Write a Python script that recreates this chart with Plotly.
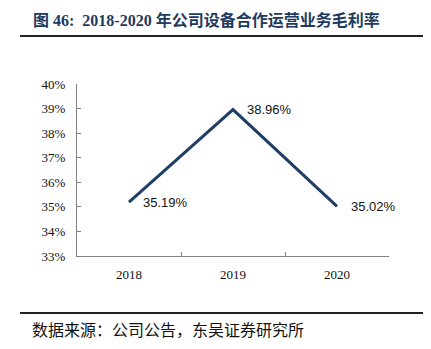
import plotly.graph_objects as go

years = ["2018", "2019", "2020"]
margin_rate = [0.3519, 0.3896, 0.3502]
labels = ["35.19%", "38.96%", "35.02%"]
y_ticks = [0.33, 0.34, 0.35, 0.36, 0.37, 0.38, 0.39, 0.40]
title_text = "图 46:  2018-2020 年公司设备合作运营业务毛利率"
source_text = "数据来源：公司公告，东吴证券研究所"

W, H = 431, 349
L, R, T, B = 77, 389, 84, 256

def px_x(p):
    return (p - L) / (R - L)

def px_y(p):
    return (B - p) / (B - T)

fig = go.Figure()
fig.add_trace(go.Scatter(
    x=years, y=margin_rate, mode="lines",
    line=dict(color="#1F3F66", width=3),
    hoverinfo="skip", showlegend=False,
))

annotations = []
for i, (v, t) in enumerate(zip(margin_rate, labels)):
    annotations.append(dict(
        x=i, y=v, xref="x", yref="y", text=t, showarrow=False,
        xanchor="left", yanchor="middle", xshift=12,
        font=dict(family="Liberation Sans, Arial", size=13, color="#111111"),
    ))

annotations.append(dict(
    x=px_x(31), y=px_y(20), xref="paper", yref="paper", text="<b>" + title_text + "</b>",
    showarrow=False, xanchor="left", yanchor="middle",
    font=dict(family="Liberation Serif, Noto Sans CJK SC", size=16, color="#1F3A5F"),
))
annotations.append(dict(
    x=px_x(30), y=px_y(329), xref="paper", yref="paper", text=source_text,
    showarrow=False, xanchor="left", yanchor="middle",
    font=dict(family="Noto Sans CJK SC", size=16, color="#111111"),
))

shapes = [
    dict(type="line", xref="paper", yref="paper", x0=px_x(20), x1=px_x(423),
         y0=px_y(36), y1=px_y(36), line=dict(color="#222222", width=2)),
    dict(type="line", xref="paper", yref="paper", x0=px_x(20), x1=px_x(423),
         y0=px_y(313), y1=px_y(313), line=dict(color="#222222", width=2)),
]

fig.update_layout(
    width=W, height=H,
    margin=dict(l=L, r=W - R, t=T, b=H - B, pad=0),
    paper_bgcolor="white", plot_bgcolor="white",
    annotations=annotations, shapes=shapes,
    xaxis=dict(
        type="category", range=[-0.5, 2.5], showgrid=False,
        showline=True, linecolor="#808080", linewidth=1,
        ticks="inside", tickson="boundaries", ticklen=4, tickcolor="#808080",
        ticklabelstandoff=6,
        tickfont=dict(family="Liberation Serif, Times New Roman", size=13, color="#111111"),
        zeroline=False, fixedrange=True,
    ),
    yaxis=dict(
        range=[0.33, 0.40], tickvals=y_ticks, tickformat=".0%",
        showgrid=False, showline=True, linecolor="#808080", linewidth=1,
        ticks="inside", ticklen=4, tickcolor="#808080",
        ticklabelstandoff=8,
        tickfont=dict(family="Liberation Serif, Times New Roman", size=13, color="#111111"),
        zeroline=False, fixedrange=True,
    ),
)

fig.write_html("out.html")
